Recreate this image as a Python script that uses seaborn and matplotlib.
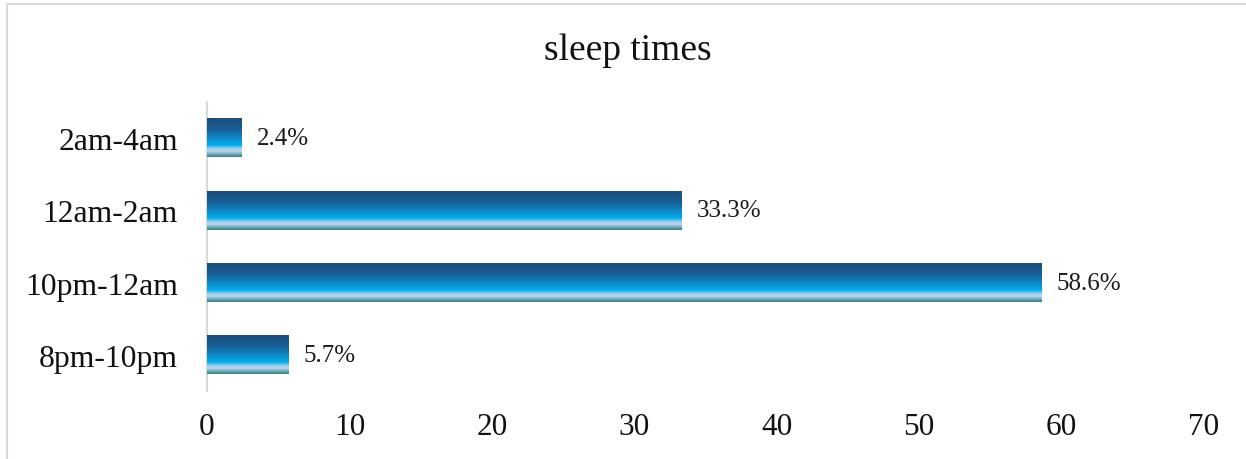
import matplotlib
matplotlib.use("Agg")
import matplotlib.pyplot as plt
from matplotlib.colors import LinearSegmentedColormap
from matplotlib.patches import Rectangle
import numpy as np
import pandas as pd
import seaborn as sns

categories = ["2am-4am", "12am-2am", "10pm-12am", "8pm-10pm"]
shares = [2.4, 33.3, 58.6, 5.7]
x_ticks = [0, 10, 20, 30, 40, 50, 60, 70]

df = pd.DataFrame({"slot": categories, "share": shares})

sns.set_theme(style="white")
plt.rcParams["font.family"] = ["Liberation Serif", "DejaVu Serif"]

fig = plt.figure(figsize=(12.46, 4.6), dpi=100)
ax = fig.add_axes([207 / 1246, 68 / 460, 997 / 1246, 289 / 460])

sns.barplot(data=df, x="share", y="slot", order=categories, orient="h",
            width=0.53, color="#0b8fd0", ax=ax)

# vertical gradient fill, like the office-style bars
grad = LinearSegmentedColormap.from_list("bar", [
    (0.0, "#1f4e79"), (0.3, "#17609a"), (0.6, "#0a9ad8"),
    (0.7, "#00b0f0"), (0.77, "#8fcbef"), (0.85, "#bdd7ee"),
    (0.91, "#7fb2c0"), (1.0, "#2e7f8a")])
vals = np.linspace(0, 1, 256).reshape(-1, 1)
for p in ax.patches:
    x0, y0 = p.get_x(), p.get_y()
    w, h = p.get_width(), p.get_height()
    # y axis is inverted for categories, so y0 is the top edge
    ax.imshow(vals, cmap=grad, aspect="auto", interpolation="bilinear",
              extent=(x0, x0 + w, y0 + h, y0), zorder=3)
    p.set_visible(False)

for i, v in enumerate(shares):
    ax.annotate(f"{v}%", xy=(v, i), xytext=(11, 0), textcoords="offset points",
                va="center", ha="left", fontsize=18, color="#1a1a1a")

ax.set_xlim(0, 70)
ax.set_ylim(len(categories) - 0.5, -0.5)
ax.set_xticks(x_ticks)
ax.set_xticklabels([str(t) for t in x_ticks])
ax.tick_params(axis="x", length=0, pad=15, labelsize=22.5, labelcolor="#111111")
ax.tick_params(axis="y", length=0, pad=21, labelsize=22.8, labelcolor="#111111")
ax.set_xlabel("")
ax.set_ylabel("")
for s in ["top", "right", "bottom"]:
    ax.spines[s].set_visible(False)
ax.spines["left"].set_color("#d9d9d9")
ax.spines["left"].set_linewidth(1.5)

fig.text(628 / 1246, 409 / 460, "sleep times", ha="center", va="center",
         fontsize=27, color="#111111")

# chart frame, running off the right and bottom edges
fig.patches.append(Rectangle((7 / 1246, -0.05), 1.2, 455 / 460 + 0.05,
                             transform=fig.transFigure, fill=False,
                             edgecolor="#d9d9d9", linewidth=1.5))

fig.savefig("out.png", dpi=100)
plt.close(fig)
